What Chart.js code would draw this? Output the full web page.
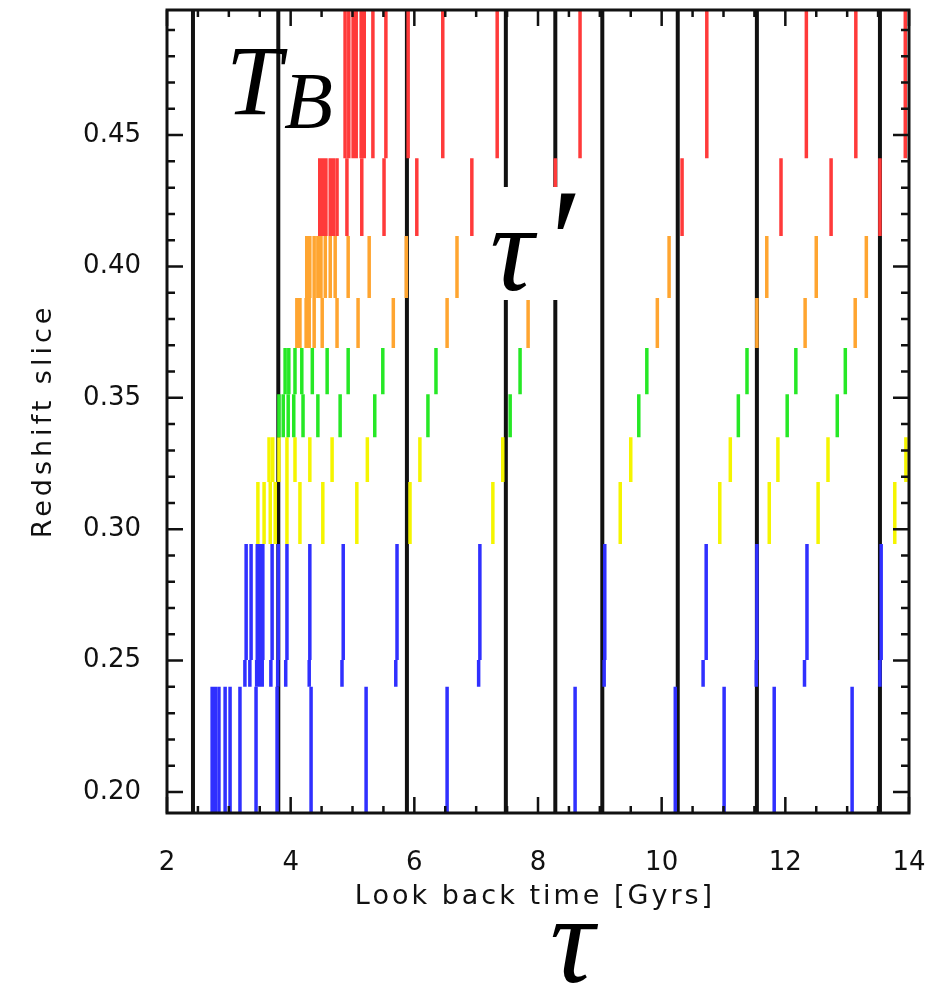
<!DOCTYPE html>
<html>
<head>
<meta charset="utf-8">
<script src="https://cdn.jsdelivr.net/npm/chart.js@4/dist/chart.umd.min.js"></script>
<style>
  html, body { margin: 0; padding: 0; background: #fff; }
  canvas { display: block; }
</style>
</head>
<body>
<canvas id="slices" width="950" height="984"></canvas>
<script>
// ================= DATA =================
const timeTicks = [2, 4, 6, 8, 10, 12, 14];
const redshiftTicks = [0.20, 0.25, 0.30, 0.35, 0.40, 0.45];

// T_B boundaries (Gyr), drawn full height
const boundaryTimes = [2.42, 3.80, 5.88, 7.48, 8.28, 9.04, 10.26, 11.54, 13.53];

// redshift range of each slice [low, high]
const redHighSlice = [0.4412, 0.50];
const redLowSlice = [0.4116, 0.4412];
const orangeHighSlice = [0.388, 0.4116];
const orangeLowSlice = [0.369, 0.388];
const greenHighSlice = [0.3514, 0.369];
const greenLowSlice = [0.335, 0.3514];
const yellowHighSlice = [0.318, 0.335];
const yellowLowSlice = [0.2944, 0.318];
const blueHighSlice = [0.2502, 0.2944];
const blueMidSlice = [0.240, 0.2502];
const blueLowSlice = [0.19, 0.240];

// tau' values in each slice (Gyr)
const redHigh = [4.88, 4.94, 5.01, 5.06, 5.14, 5.19, 5.33, 5.54, 5.90, 6.46, 7.34, 8.68, 10.73, 12.34, 13.14, 13.94];
const redLow = [4.47, 4.52, 4.57, 4.64, 4.69, 4.75, 4.91, 5.15, 5.51, 6.04, 6.93, 8.28, 10.33, 11.93, 12.74, 13.53];
const orangeHigh = [4.26, 4.31, 4.38, 4.44, 4.49, 4.56, 4.64, 4.72, 4.93, 5.27, 5.87, 6.69, 10.12, 11.70, 12.50, 13.31];
const orangeLow = [4.10, 4.15, 4.25, 4.30, 4.38, 4.51, 4.75, 5.09, 5.66, 6.53, 7.84, 9.93, 11.54, 12.32, 13.13];
const greenHigh = [3.91, 3.97, 4.07, 4.18, 4.35, 4.59, 4.93, 5.49, 6.35, 7.71, 9.76, 11.38, 12.17, 12.97];
const greenLow = [3.81, 3.88, 3.96, 4.05, 4.20, 4.44, 4.80, 5.36, 6.22, 7.55, 9.63, 11.24, 12.03, 12.84];
const yellowHigh = [3.65, 3.71, 3.81, 3.94, 4.07, 4.31, 4.67, 5.24, 6.09, 7.43, 9.50, 11.11, 11.88, 12.69, 13.95];
const yellowLow = [3.47, 3.57, 3.67, 3.75, 3.94, 4.15, 4.52, 5.07, 5.93, 7.27, 9.33, 10.94, 11.74, 12.53, 13.77];
const blueHigh = [3.28, 3.36, 3.46, 3.50, 3.55, 3.70, 3.80, 3.94, 4.31, 4.85, 5.72, 7.06, 9.08, 10.72, 11.54, 12.35, 13.55];
const blueMid = [3.26, 3.34, 3.45, 3.49, 3.54, 3.68, 3.79, 3.92, 4.30, 4.83, 5.70, 7.04, 9.07, 10.67, 11.53, 12.31, 13.53];
const blueLow = [2.73, 2.78, 2.84, 2.94, 3.02, 3.18, 3.44, 3.78, 4.33, 5.22, 6.53, 8.60, 10.22, 11.01, 11.82, 13.08];

// ================= HELPERS =================
// each value becomes one vertical stroke from lo to hi, null breaks the line
function strokes(times, range){
  const pts = [];
  times.forEach(t=>{
    pts.push({x:t, y:range[0]}, {x:t, y:range[1]}, {x:t, y:null});
  });
  return pts;
}

function sliceSet(times, range, color){
  return {
    data: strokes(times, range),
    showLine: true,
    spanGaps: false,
    borderColor: color,
    borderWidth: 3.5,
    pointRadius: 0,
    order: 0
  };
}

const RED = '#ff3a3a', ORANGE = '#ffa530', GREEN = '#26e826', YELLOW = '#f5f500', BLUE = '#3030ff';

const datasets = [
  sliceSet(redHigh, redHighSlice, RED),
  sliceSet(redLow, redLowSlice, RED),
  sliceSet(orangeHigh, orangeHighSlice, ORANGE),
  sliceSet(orangeLow, orangeLowSlice, ORANGE),
  sliceSet(greenHigh, greenHighSlice, GREEN),
  sliceSet(greenLow, greenLowSlice, GREEN),
  sliceSet(yellowHigh, yellowHighSlice, YELLOW),
  sliceSet(yellowLow, yellowLowSlice, YELLOW),
  sliceSet(blueHigh, blueHighSlice, BLUE),
  sliceSet(blueMid, blueMidSlice, BLUE),
  sliceSet(blueLow, blueLowSlice, BLUE),
  {
    data: strokes(boundaryTimes, [0.19, 0.50]),
    showLine: true,
    spanGaps: false,
    borderColor: '#111',
    borderWidth: 4,
    pointRadius: 0,
    order: 1
  }
];

// no extra edge padding from the scales
function noEdgePadding(s){
  s.paddingTop = 0; s.paddingBottom = 0;
  s.paddingLeft = 0; s.paddingRight = 0;
}

// ================= FRAME + IDL STYLE TICKS =================
const frameTicks = {
  id: 'frameTicks',
  afterDatasetsDraw(chart){
    const {ctx, chartArea: a, scales: {x, y}} = chart;
    ctx.save();
    ctx.strokeStyle = '#111';
    ctx.lineWidth = 2.5;
    ctx.beginPath();
    for(let t = 2; t <= 14.001; t += 0.5){
      const px = x.getPixelForValue(t);
      const len = Math.abs(t % 2) < 1e-6 ? 16 : 7;
      ctx.moveTo(px, a.bottom); ctx.lineTo(px, a.bottom - len);
      ctx.moveTo(px, a.top); ctx.lineTo(px, a.top + len);
    }
    for(let i = 20; i <= 49; i++){
      const z = i / 100;
      const py = y.getPixelForValue(z);
      const len = i % 5 === 0 ? 16 : 8;
      ctx.moveTo(a.left, py); ctx.lineTo(a.left + len, py);
      ctx.moveTo(a.right, py); ctx.lineTo(a.right - len, py);
    }
    ctx.stroke();
    ctx.lineWidth = 3;
    ctx.strokeRect(a.left, a.top, a.right - a.left, a.bottom - a.top);
    ctx.restore();
  }
};

// ================= TITLES + SYMBOLS =================
const labels = {
  id: 'labels',
  afterDraw(chart){
    const {ctx} = chart;
    ctx.save();
    ctx.fillStyle = '#111';

    ctx.font = '27px "DejaVu Sans"';
    ctx.letterSpacing = '3px';
    ctx.textAlign = 'center';
    ctx.textBaseline = 'middle';
    ctx.fillText('Look back time [Gyrs]', 535, 897);

    ctx.save();
    ctx.translate(44, 421);
    ctx.rotate(-Math.PI/2);
    ctx.font = '27px "DejaVu Sans"';
    ctx.letterSpacing = '4px';
    ctx.fillText('Redshift slice', 0, 0);
    ctx.restore();
    ctx.letterSpacing = '0px';

    // T_B
    ctx.fillStyle = '#000';
    ctx.textAlign = 'left';
    ctx.textBaseline = 'alphabetic';
    ctx.font = 'italic 100px "Liberation Serif"';
    ctx.fillText('T', 226, 114);
    ctx.font = 'italic 80px "Liberation Serif"';
    ctx.fillText('B', 284, 128);

    // tau' on white patch
    ctx.fillStyle = '#fff';
    ctx.fillRect(487, 187, 96, 113);
    ctx.fillStyle = '#000';
    ctx.font = 'italic 122px "Liberation Serif"';
    ctx.fillText('τ', 490, 290);
    ctx.font = 'italic 150px "Liberation Serif"';
    ctx.fillText('′', 541, 292);

    // tau under the axis title
    ctx.font = 'italic 124px "Liberation Serif"';
    ctx.fillText('τ', 550, 982);
    ctx.restore();
  }
};

// ================= CHART =================
new Chart(document.getElementById('slices'), {
  type: 'scatter',
  data: { datasets },
  options: {
    responsive: false,
    animation: false,
    layout: { padding: { top: 10, right: 41, left: 0, bottom: 0 } },
    plugins: { legend: { display: false }, tooltip: { enabled: false } },
    scales: {
      x: {
        type: 'linear',
        min: 2, max: 14,
        grid: { display: false, drawTicks: false },
        border: { display: false },
        afterBuildTicks: s => { s.ticks = timeTicks.map(v => ({value: v})); },
        afterFit: s => { s.height = 171; noEdgePadding(s); },
        ticks: {
          color: '#111',
          padding: 35,
          maxRotation: 0,
          font: { family: 'DejaVu Sans', size: 26 },
          callback: v => String(v)
        }
      },
      y: {
        type: 'linear',
        min: 0.192, max: 0.4976,
        grid: { display: false, drawTicks: false },
        border: { display: false },
        afterBuildTicks: s => { s.ticks = redshiftTicks.map(v => ({value: v})); },
        afterFit: s => { s.width = 167; noEdgePadding(s); },
        ticks: {
          color: '#111',
          padding: 26,
          font: { family: 'DejaVu Sans', size: 26 },
          callback: v => Number(v).toFixed(2)
        }
      }
    }
  },
  plugins: [frameTicks, labels]
});
</script>
</body>
</html>
